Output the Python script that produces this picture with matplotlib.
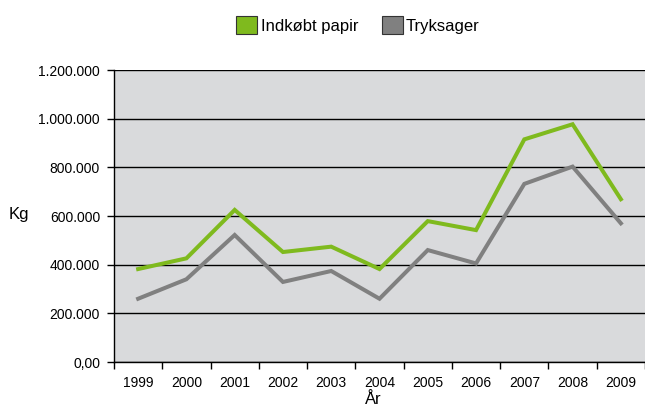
import matplotlib
matplotlib.use("Agg")
import matplotlib.pyplot as plt
from matplotlib.patches import Patch
from matplotlib.ticker import FuncFormatter, FixedLocator
import numpy as np

years = ["1999", "2000", "2001", "2002", "2003", "2004", "2005", "2006", "2007", "2008", "2009"]
indkobt_papir = [382000, 426000, 625000, 452000, 474000, 382000, 579000, 542000, 915000, 977000, 669000]
tryksager = [260000, 340000, 522000, 329000, 374000, 260000, 460000, 405000, 732000, 803000, 570000]
yticks = [0, 200000, 400000, 600000, 800000, 1000000, 1200000]

plt.rcParams['font.family'] = ['Liberation Sans', 'DejaVu Sans']

green = '#7fba1e'
gray = '#808080'

fig = plt.figure(figsize=(6.45, 4.09), dpi=100)
ax = fig.add_axes([114/645, (409-362)/409, 1 - 114/645, (362-70)/409])
ax.set_facecolor('#d9dadc')

x = np.arange(len(years)) + 0.5
ax.plot(x, indkobt_papir, color=green, lw=2.9, solid_joinstyle='miter', zorder=3)
ax.plot(x, tryksager, color=gray, lw=2.9, solid_joinstyle='miter', zorder=3)

ax.set_xlim(0, len(years))
ax.set_ylim(0, 1200000)

def fmt(v, pos):
    if v == 0:
        return "0,00"
    return f"{int(v):,}".replace(",", ".")

ax.yaxis.set_major_locator(FixedLocator(yticks))
ax.yaxis.set_major_formatter(FuncFormatter(fmt))
ax.grid(axis='y', color='black', lw=1.0, zorder=1)
ax.set_axisbelow(True)

ax.set_xticks(np.arange(len(years) + 1))
ax.set_xticklabels([])
ax.set_xticks(x, minor=True)
ax.set_xticklabels(years, minor=True)
ax.tick_params(axis='x', which='major', length=5, width=1, color='black', direction='out')
ax.tick_params(axis='x', which='minor', length=0, pad=10, labelsize=10)
ax.tick_params(axis='y', length=5, width=1, color='black', labelsize=10, pad=5)

for s in ['top', 'right']:
    ax.spines[s].set_visible(False)
for s in ['left', 'bottom']:
    ax.spines[s].set_color('black')
    ax.spines[s].set_linewidth(1.0)

ax.set_ylabel("Kg", rotation=0, fontsize=12, va='center', ha='center')
ax.yaxis.set_label_coords((18.5 - 114) / (645 - 114), (362 - 215) / 292)
ax.set_xlabel("År", fontsize=12)
ax.xaxis.set_label_coords((373 - 114) / (645 - 114), -(400 - 362) / 292)
ax.xaxis.label.set_va('center')

handles = [Patch(facecolor=green, edgecolor='#333333', lw=0.8, label='Indkøbt papir'),
           Patch(facecolor=gray, edgecolor='#333333', lw=0.8, label='Tryksager')]
fig.legend(handles=handles, loc='center', bbox_to_anchor=(358/645, 1 - 25/409), ncol=2,
           frameon=False, fontsize=12, handlelength=1.27, handleheight=1.27,
           handletextpad=0.2, columnspacing=1.4, borderpad=0)

fig.savefig("out.png", dpi=100)
